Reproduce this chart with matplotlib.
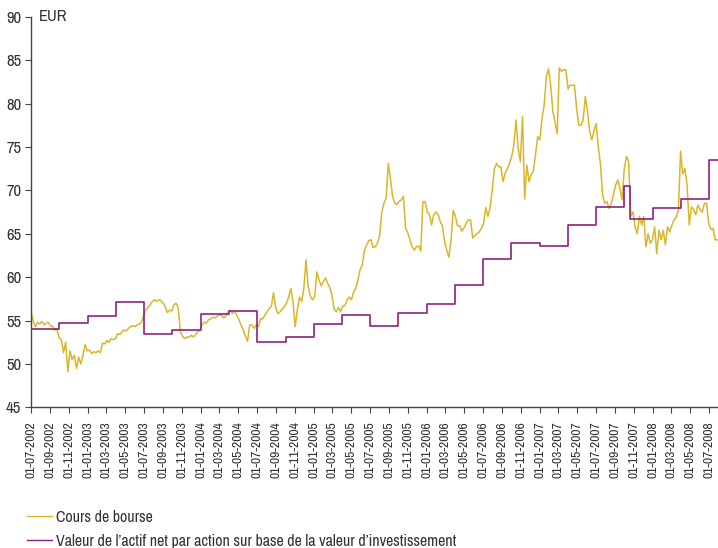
import numpy as np
import pandas as pd
import matplotlib
matplotlib.use('Agg')
import matplotlib.pyplot as plt
import matplotlib.dates as mdates
from matplotlib import font_manager
from matplotlib.lines import Line2D

# police etroite si disponible, sinon Liberation Sans un peu plus petite
narrow = None
for f in font_manager.fontManager.ttflist:
    if f.style != 'normal' or f.weight not in (400, 'normal', 'regular'):
        continue
    if 'Narrow' in f.name or 'Condensed' in f.name:
        narrow = (f.name, 'normal')
        break
    if f.stretch in ('condensed', 'semi-condensed') and narrow is None:
        narrow = (f.name, f.stretch)
if narrow:
    plt.rcParams['font.family'] = [narrow[0], 'DejaVu Sans']
    plt.rcParams['font.stretch'] = narrow[1]
    fs_y, fs_x, fs_leg = 12, 9.8, 11.5
else:
    plt.rcParams['font.family'] = ['Liberation Sans', 'DejaVu Sans']
    fs_y, fs_x, fs_leg = 9.5, 8.5, 9.5

# cours de bourse, une valeur par semaine a partir du 01-07-2002
cours_bourse = [
    56.0, 54.9, 54.3, 54.8, 54.6, 54.9, 54.5, 54.7, 54.8, 54.4, 54.3, 53.9, 54.0,
    53.0, 52.8, 51.3, 52.5, 49.1, 51.5, 50.5, 51.0, 49.5, 50.8, 50.0, 51.0, 52.2,
    51.5, 51.6, 51.2, 51.4, 51.3, 51.5, 51.3, 52.4, 52.3, 52.7, 52.5, 52.9, 52.8,
    52.9, 53.5, 53.4, 53.7, 53.9, 53.8, 54.1, 54.3, 54.4, 54.3, 54.5, 54.6, 54.8,
    55.6, 56.2, 56.5, 56.8, 57.2, 57.4, 57.2, 57.4, 57.3, 57.0, 56.6, 55.9, 56.2,
    56.1, 56.8, 57.0, 56.4, 53.7, 53.2, 52.9, 53.1, 53.1, 53.3, 53.1, 53.4, 53.7,
    53.9, 54.5, 54.8, 54.7, 55.1, 55.2, 55.4, 55.3, 55.5, 55.7, 55.6, 55.3, 55.5,
    56.0, 56.2, 55.8, 56.1, 55.6, 55.1, 54.5, 53.9, 53.2, 52.6, 54.5, 54.5, 54.1,
    54.5,
    54.3, 55.2, 55.2, 55.6, 56.0, 56.4, 56.6, 58.2, 56.5, 55.8, 56.0, 56.3,
    56.6, 57.0, 57.7, 58.7, 57.2, 54.3, 56.2, 57.7, 57.2, 58.7, 62.0, 58.9, 57.8,
    57.4, 57.7, 60.6, 59.7, 59.0, 59.5, 59.9, 59.3, 58.8, 57.9, 56.3, 56.0, 56.5,
    56.0, 56.7, 56.7, 57.4, 57.7, 57.4, 58.3, 58.7, 59.7, 60.9, 61.4, 63.1, 63.7,
    64.2, 64.3,
    63.4, 63.5, 63.9, 64.8, 67.5, 68.5, 69.1, 73.1, 71.3, 69.3, 68.5, 68.4, 68.7,
    68.9, 69.3, 65.6, 65.1, 64.3, 63.5, 63.1, 63.5, 63.6, 63.0, 68.7, 68.7, 67.5,
    67.2, 66.0, 67.2, 67.5, 67.2, 66.4, 65.9, 64.1, 63.1, 62.3, 64.3, 67.7, 67.0,
    65.9, 65.9, 65.3, 65.7, 66.2, 66.6, 66.6, 64.5, 64.8, 65.0, 65.2, 65.6, 66.2,
    68.0,
    67.0, 68.0, 70.0, 72.5, 73.1, 72.7, 72.7, 71.0, 72.0, 72.5, 73.1, 73.9,
    75.2, 78.1, 74.8, 73.3, 78.5, 69.0, 72.9, 71.0, 71.8, 72.2, 74.1, 76.2, 75.8,
    78.3, 79.8, 83.1, 84.0, 82.1, 79.1, 77.9, 76.5, 84.1, 83.7, 83.9, 83.9, 81.7,
    82.1, 82.1, 82.1, 79.4, 77.5, 77.5, 78.1, 80.8, 79.1, 76.8, 75.8, 76.8, 77.7,
    75.0, 73.0, 69.4, 68.5, 68.7, 67.9, 68.5, 69.5, 70.6, 71.2, 70.2, 68.9, 72.5,
    73.9, 73.3, 67.0, 67.5, 65.8, 65.0, 67.0, 66.0, 67.0, 63.5, 65.0, 63.9, 64.3,
    65.8, 62.7, 65.4, 64.3, 65.4, 63.7, 65.8, 65.2, 66.0, 66.6, 66.9, 67.7, 74.5,
    71.9, 72.5, 70.6, 66.0, 68.1, 67.8, 67.2, 68.3, 67.8, 67.5, 68.5, 68.5, 66.2,
    65.5, 65.6, 64.3, 64.3,
]

# valeur de l'actif net par action (paliers)
vni_dates = [
    '2002-07-01', '2002-10-01', '2003-01-01', '2003-04-01', '2003-07-01',
    '2003-10-01', '2004-01-01', '2004-04-01', '2004-07-01', '2004-10-01',
    '2005-01-01', '2005-04-01', '2005-07-01', '2005-10-01', '2006-01-01',
    '2006-04-01', '2006-07-01', '2006-10-01', '2007-01-01', '2007-04-01',
    '2007-07-01', '2007-10-01', '2007-10-20', '2008-01-01', '2008-04-01',
    '2008-07-01', '2008-07-30',
]
vni = [
    54.0, 54.75, 55.55, 57.15, 53.45,
    53.9, 55.75, 56.1, 52.55, 53.15,
    54.65, 55.6, 54.4, 55.85, 56.9,
    59.15, 62.05, 63.95, 63.6, 66.0,
    68.1, 70.5, 66.65, 68.0, 68.95,
    73.45, 73.45,
]

labels = ['Cours de bourse',
          'Valeur de l\u2019actif net par action sur base de la valeur d\u2019investissement']
gold = '#D9B72A'
purple = '#8C2380'
grey = '#333333'

cours_dates = pd.date_range('2002-07-01', periods=len(cours_bourse), freq='7D')
tick_dates = pd.date_range('2002-07-01', '2008-07-01', freq='2MS')

fig = plt.figure(figsize=(7.18, 5.48), dpi=100)
ax = fig.add_axes([0.0432, 0.2567, 0.9568, 0.7128])

ax.plot(cours_dates, cours_bourse, color=gold, lw=1.1)
ax.step(pd.to_datetime(vni_dates), vni, where='post', color=purple, lw=1.2)

ax.set_xlim(pd.Timestamp('2002-07-01'), pd.Timestamp('2008-07-30'))
ax.set_ylim(45, 90)
ax.set_yticks(np.arange(45, 91, 5))
ax.set_xticks(tick_dates)
ax.xaxis.set_major_formatter(mdates.DateFormatter('%d-%m-%Y'))
ax.tick_params(axis='x', labelrotation=90, labelsize=fs_x, length=4, width=0.8,
               color='#444444', labelcolor=grey, pad=6)
ax.tick_params(axis='y', labelsize=fs_y, length=4, width=0.8,
               color='#444444', labelcolor=grey, pad=3)

for s in ['top', 'right']:
    ax.spines[s].set_visible(False)
for s in ['left', 'bottom']:
    ax.spines[s].set_color('#444444')
    ax.spines[s].set_linewidth(1.0)

ax.text(0.012, 1.0, 'EUR', transform=ax.transAxes, fontsize=fs_y,
        color=grey, va='center', ha='left')

handles = [Line2D([], [], color=gold, lw=1.0), Line2D([], [], color=purple, lw=1.0)]
fig.legend(handles, labels, loc='upper left', bbox_to_anchor=(0.037, 0.070),
           frameon=False, fontsize=fs_leg, handlelength=1.57, handletextpad=0.26,
           labelspacing=0.58, borderpad=0, borderaxespad=0, labelcolor=grey)

fig.savefig('out.png', dpi=100)
